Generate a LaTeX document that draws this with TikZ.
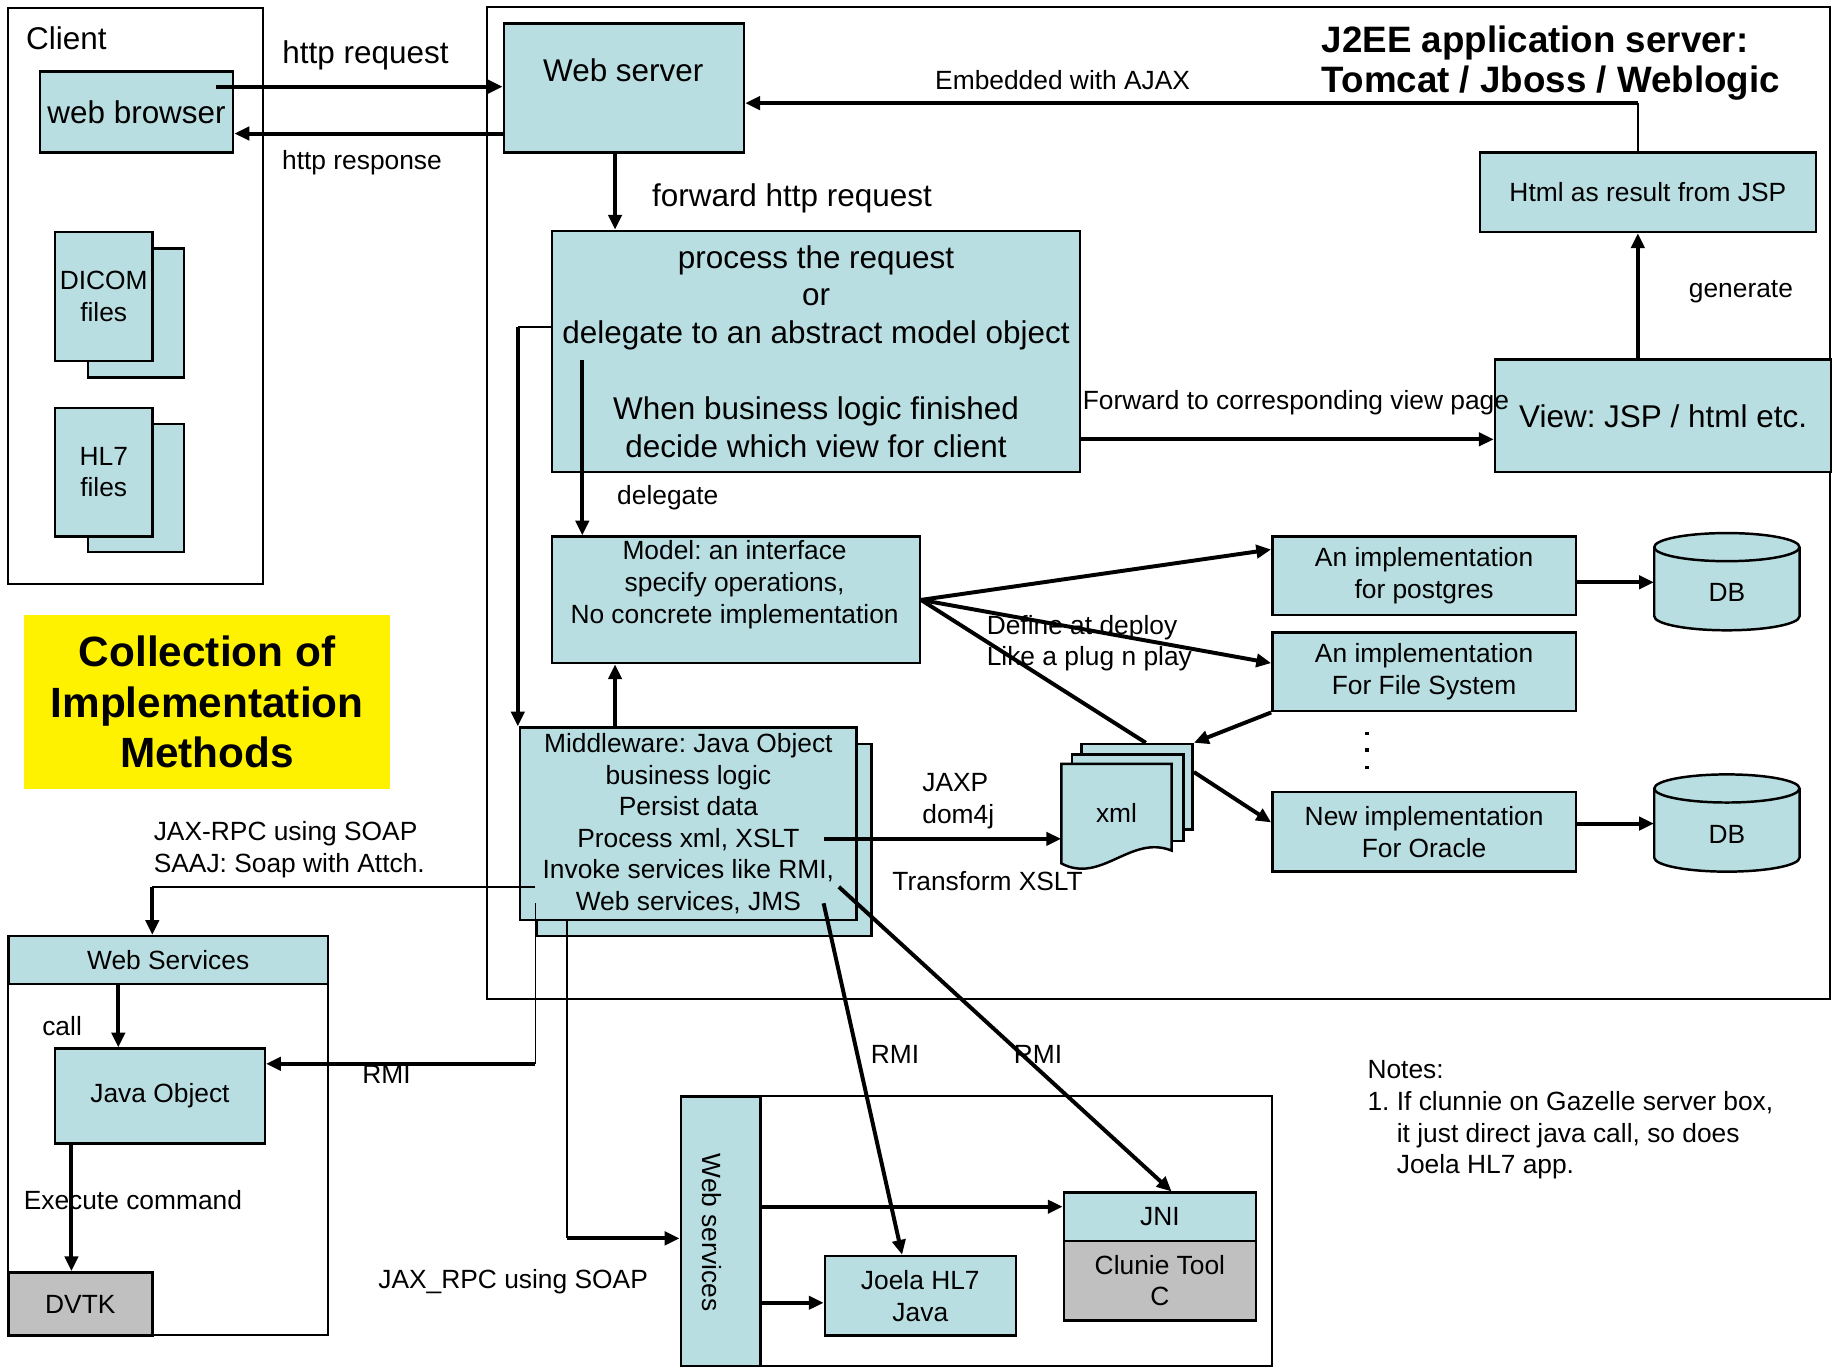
\documentclass[tikz,border=0pt]{standalone}
\usepackage{fontspec}
\setmainfont{Liberation Sans}
\usetikzlibrary{arrows.meta}

\definecolor{boxfill}{RGB}{184,222,226}
\definecolor{boxgray}{RGB}{192,192,192}

\tikzset{
  box/.style={draw, fill=boxfill, line width=1.5pt, inner sep=0pt, align=center, anchor=north west},
  graybox/.style={box, fill=boxgray},
  outerbox/.style={draw, line width=1.2pt, inner sep=0pt, anchor=north west},
  bigtext/.style={font=\fontsize{19.1}{23}\selectfont},
  medtext/.style={font=\fontsize{16}{19.2}\selectfont},
  lbl/.style={inner sep=0pt, align=center},
  conn/.style={line width=2.4pt, -{Triangle[length=9pt,width=8pt]}},
  link/.style={line width=2.4pt},
  wire/.style={line width=1.1pt},
}

\begin{document}
\frenchspacing
\begin{tikzpicture}[x=0.25mm, y=-0.25mm]
\useasboundingbox (0,0) rectangle (1568,1167);

\node[outerbox, minimum width=54.5mm, minimum height=123mm] (client) at (6,6) {};
\node[outerbox, minimum width=286.5mm, minimum height=211.75mm] (j2ee) at (415,5) {};
\node[outerbox, minimum width=68.25mm, minimum height=85.25mm] (wsgroup) at (6,798) {};
\node[outerbox, minimum width=126.25mm, minimum height=57.5mm] (remote) at (580,935) {};

\node[box, bigtext, minimum width=41.25mm, minimum height=17.25mm] (browser) at (33,60) {web browser};
\node[box, minimum width=20.5mm, minimum height=27.5mm] (dicomb) at (74,211) {};
\node[box, medtext, minimum width=20.75mm, minimum height=27.5mm] (dicom) at (46,197) {DICOM\\files};
\node[box, minimum width=20.5mm, minimum height=27.25mm] (hl7b) at (74,361) {};
\node[box, medtext, minimum width=20.75mm, minimum height=27.5mm] (hl7) at (46,347) {HL7\\files};

\node[box, minimum width=51.25mm, minimum height=27.5mm] (ws) at (429,19) {};
\node[lbl, bigtext] (wstext) at (532,60) {Web server};
\node[box, bigtext, minimum width=112.75mm, minimum height=51.5mm] (proc) at (470,196) {process the request\\or\\delegate to an abstract model object\\[23pt]When business logic finished\\decide which view for client};
\node[box, medtext, minimum width=71.75mm, minimum height=17mm] (html) at (1262,129) {Html as result from JSP};
\node[box, bigtext, minimum width=71.75mm, minimum height=24mm] (view) at (1275,306) {View: JSP / html etc.};
\node[box, minimum width=78.5mm, minimum height=27mm] (model) at (470,457) {};
\node[lbl, medtext] (modeltext) at (627,499) {Model: an interface\\specify operations,\\No concrete implementation};
\node[box, minimum width=71.5mm, minimum height=41mm] (mwb) at (457,634) {};
\node[box, medtext, minimum width=71.75mm, minimum height=41mm] (mw) at (443,620) {Middleware: Java Object\\business logic\\Persist data\\Process xml, XSLT\\Invoke services like RMI,\\Web services, JMS};

\node[box, medtext, minimum width=64.75mm, minimum height=16.75mm] (post) at (1085,457) {An implementation\\for postgres};
\node[box, medtext, minimum width=64.75mm, minimum height=16.75mm] (fs) at (1085,539) {An implementation\\For File System};
\node[box, medtext, minimum width=64.75mm, minimum height=17mm] (oracle) at (1085,675) {New implementation\\For Oracle};
\foreach \ytop/\dbname in {455/db1, 661/db2} {
  \draw[fill=boxfill, line width=1.5pt] (1412,\ytop+12) -- (1412,\ytop+71) arc[start angle=180, end angle=0, x radius=62, y radius=12] -- (1536,\ytop+12) arc[start angle=0, end angle=-180, x radius=62, y radius=12] -- cycle;
  \draw[line width=1.5pt] (1412,\ytop+12) arc[start angle=180, end angle=0, x radius=62, y radius=12];
  \node[lbl, medtext, minimum width=31mm] (\dbname) at (1474,\ytop+51) {DB};
}
\foreach \y in {626,640,655}
  \fill (1165.5,\y-1.5) rectangle (1168.5,\y+1.5);

\node[box, minimum width=23.75mm, minimum height=18.25mm] (xmlb) at (922,634) {};
\node[box, minimum width=23.75mm, minimum height=18.5mm] (xmlm) at (914,643) {};
\draw[fill=boxfill, line width=1.5pt] (906,652) -- (1000,652) -- (1000,726) .. controls (965,712) and (940,755) .. (906,737) -- cycle;
\node[lbl, medtext, minimum width=23.5mm, minimum height=21mm] (xml) at (953,694) {xml};

\node[fill=yellow, inner sep=0pt, align=center, anchor=north west, minimum width=78.25mm, minimum height=37mm, font=\fontsize{25.7}{30.8}\selectfont\bfseries] (collection) at (20,525) {Collection of\\Implementation\\Methods};
\node[lbl, align=left, anchor=west, font=\fontsize{22.3}{24.1}\selectfont\bfseries] (title) at (1128,54) {J2EE application server:\\Tomcat / Jboss / Weblogic};

\node[box, medtext, minimum width=68.25mm, minimum height=10.25mm] (wsh) at (6,798) {Web Services};
\node[box, medtext, minimum width=44.75mm, minimum height=20.25mm] (jobj) at (46,894) {Java Object};
\node[graybox, medtext, minimum width=30.75mm, minimum height=13.5mm] (dvtk) at (6,1085) {DVTK};

\node[box, minimum width=17mm, minimum height=57.5mm] (wsbar) at (580,935) {};
\node[lbl, medtext, rotate=-90] (wsbartext) at (608,1052) {Web services};
\node[box, medtext, minimum width=41mm, minimum height=10.25mm] (jni) at (907,1017) {JNI};
\node[graybox, medtext, minimum width=41mm, minimum height=17mm] (clunie) at (907,1058) {Clunie Tool\\C};
\node[box, medtext, minimum width=40.75mm, minimum height=17mm] (joela) at (703,1071) {Joela HL7\\Java};

\node[lbl, bigtext, anchor=west] (clientlbl) at (22,33) {Client};
\node[lbl, bigtext] (reqlbl) at (312,47) {http request};
\node[lbl, medtext] (resplbl) at (309,139) {http response};
\node[lbl, medtext, anchor=west] (ajaxlbl) at (798,68) {Embedded with AJAX};
\node[lbl, bigtext] (fwdlbl) at (676,169) {forward http request};
\node[lbl, medtext] (genlbl) at (1486,249) {generate};
\node[lbl, medtext, anchor=west] (viewlbl) at (924,344) {Forward to corresponding view page};
\node[lbl, medtext] (dellbl) at (570,425) {delegate};
\node[lbl, medtext, align=left, anchor=west] (deploylbl) at (842,549) {Define at deploy\\Like a plug n play};
\node[lbl, medtext, align=left, anchor=west] (jaxplbl) at (787,684) {JAXP\\dom4j};
\node[lbl, medtext] (xsltlbl) at (843,752) {Transform XSLT};
\node[lbl, medtext, align=left, anchor=west] (soaplbl) at (131,725) {JAX-RPC using SOAP\\SAAJ: Soap with Attch.};
\node[lbl, medtext] (calllbl) at (53,876) {call};
\node[lbl, medtext] (rmilbl) at (330,917) {RMI};
\node[lbl, medtext, anchor=west] (execlbl) at (20,1024) {Execute command};
\node[lbl, medtext] (rpclbl) at (438,1094) {JAX\_RPC using SOAP};
\node[lbl, medtext] (rmilblb) at (764,900) {RMI};
\node[lbl, medtext] (rmilblc) at (886,900) {RMI};
\node[lbl, medtext, align=left, anchor=west] (notes) at (1167,956) {Notes:\\1. If clunnie on Gazelle server box,\\\phantom{1.\ }it just direct java call, so does\\\phantom{1.\ }Joela HL7 app.};

\coordinate (reqstart) at (184,74);
\draw[conn] (reqstart) -- (reqstart -| ws.west);
\draw[conn] (ws.west |- 0,114) -- (browser.east |- 0,114);
\coordinate (ajaxcorner) at (1398,88);
\draw[wire] (html.north -| ajaxcorner) -- (ajaxcorner);
\draw[conn] (ajaxcorner) -- (ajaxcorner -| ws.east);
\draw[conn] (view.north -| ajaxcorner) -- (html.south -| ajaxcorner);
\draw[conn] (ws.south -| 525,0) -- (proc.north -| 525,0);
\draw[conn] (proc.east |- 0,375) -- (view.west |- 0,375);
\coordinate (delegcorner) at (442,279);
\draw[wire] (proc.west |- delegcorner) -- (delegcorner);
\draw[conn] (delegcorner) -- (mw.north -| delegcorner);
\coordinate (delegstart) at (497,307);
\draw[conn] (delegstart) -- (model.north -| delegstart);
\draw[conn] (mw.north -| 525,0) -- (model.south -| 525,0);
\draw[conn] (model.east) -- (post.west |- 0,469);
\draw[conn] (model.east) -- (fs.west |- 0,566);
\draw[link] (model.east) -- (xmlb.north -| 978,0);
\draw[conn] (fs.south west) -- (xmlb.north east);
\draw[conn] (xmlb.east |- 0,659) -- (oracle.west |- 0,702);
\draw[conn] (post.east |- 0,497) -- (db1.west |- 0,497);
\draw[conn] (oracle.east |- 0,703) -- (db2.west |- 0,703);
\coordinate (jaxpstart) at (703,716);
\draw[conn] (jaxpstart) -- (jaxpstart -| xml.west);
\coordinate (soapstart) at (457,757);
\coordinate (soapcorner) at (130,757);
\draw[wire] (soapstart) -- (soapcorner);
\draw[conn] (soapcorner) -- (soapcorner |- wsh.north);
\draw[conn] (wsh.south -| 101,0) -- (jobj.north -| 101,0);
\coordinate (rmistart) at (457,771);
\coordinate (rmicorner) at (457,908);
\draw[wire] (rmistart) -- (rmicorner);
\draw[conn] (rmicorner) -- (rmicorner -| jobj.east);
\draw[conn] (jobj.south -| 61,0) -- (dvtk.north -| 61,0);
\coordinate (rpccorner) at (484,1057);
\draw[wire] (mw.south -| rpccorner) -- (rpccorner);
\draw[conn] (rpccorner) -- (rpccorner -| wsbar.west);
\draw[conn] (wsbar.east |- 0,1030) -- (jni.west |- 0,1030);
\draw[conn] (wsbar.east |- 0,1112) -- (joela.west |- 0,1112);
\coordinate (rmijoela) at (703,771);
\draw[conn] (rmijoela) -- (joela.north -| 770,0);
\coordinate (rmijni) at (716,757);
\draw[conn] (rmijni) -- (jni.north -| 1000,0);
\end{tikzpicture}
\end{document}
